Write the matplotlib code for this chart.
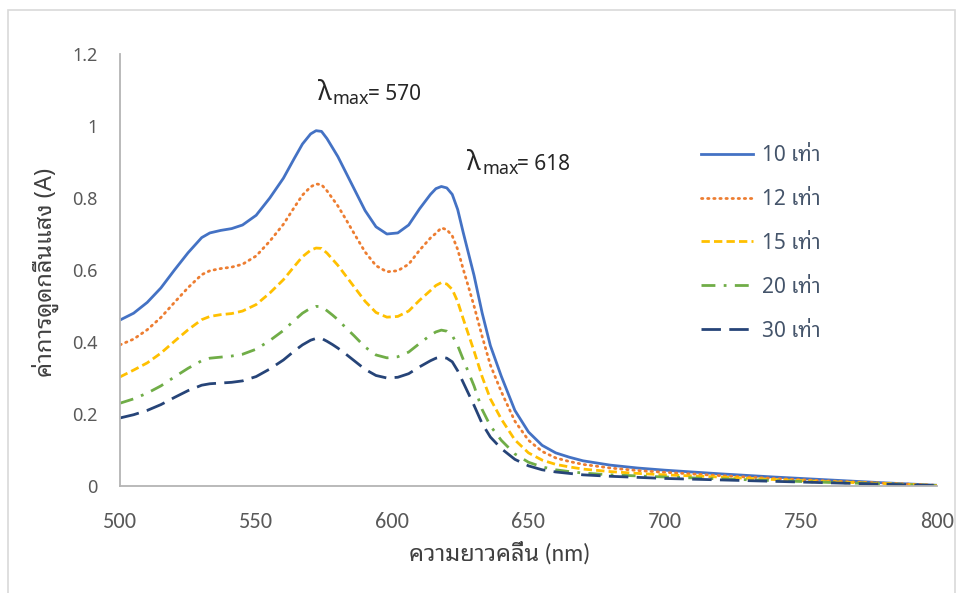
import matplotlib
matplotlib.use("Agg")
import matplotlib.pyplot as plt
from matplotlib.patches import Rectangle

# wavelength (nm) and absorbance
wavelength = [500, 505, 510, 515, 520, 525, 530, 533, 537, 541, 545, 550, 555, 560,
              564, 567, 570, 572, 574, 576, 578, 580, 583, 586, 590, 594, 598, 602,
              606, 610, 614, 616, 618, 620, 622, 624, 626, 628, 630, 633, 636, 640,
              645, 650, 655, 660, 665, 670, 680, 690, 700, 720, 740, 760, 780, 800]

abs_10x = [0.461, 0.480, 0.510, 0.550, 0.600, 0.648, 0.690, 0.703, 0.710, 0.715, 0.725,
           0.752, 0.800, 0.855, 0.910, 0.950, 0.978, 0.987, 0.985, 0.965, 0.940, 0.915,
           0.870, 0.825, 0.765, 0.720, 0.700, 0.703, 0.725, 0.770, 0.810, 0.826, 0.832,
           0.828, 0.810, 0.768, 0.705, 0.645, 0.585, 0.480, 0.390, 0.305, 0.210, 0.150,
           0.113, 0.092, 0.080, 0.070, 0.058, 0.050, 0.044, 0.034, 0.025, 0.017, 0.009,
           0.002]
abs_12x = [0.392, 0.408, 0.434, 0.468, 0.510, 0.551, 0.587, 0.598, 0.604, 0.608, 0.616,
           0.639, 0.680, 0.727, 0.774, 0.808, 0.831, 0.839, 0.837, 0.820, 0.799, 0.778,
           0.740, 0.701, 0.650, 0.612, 0.595, 0.598, 0.616, 0.655, 0.689, 0.702, 0.717,
           0.712, 0.695, 0.657, 0.603, 0.552, 0.500, 0.415, 0.336, 0.262, 0.180, 0.127,
           0.096, 0.078, 0.068, 0.060, 0.050, 0.043, 0.038, 0.029, 0.021, 0.014, 0.008,
           0.002]
abs_15x = [0.303, 0.322, 0.342, 0.369, 0.402, 0.434, 0.462, 0.471, 0.476, 0.479, 0.486,
           0.504, 0.536, 0.573, 0.610, 0.637, 0.655, 0.661, 0.660, 0.647, 0.630, 0.613,
           0.583, 0.553, 0.513, 0.482, 0.469, 0.471, 0.486, 0.516, 0.543, 0.557, 0.565,
           0.561, 0.546, 0.512, 0.465, 0.420, 0.375, 0.303, 0.242, 0.186, 0.128, 0.092,
           0.072, 0.060, 0.053, 0.047, 0.040, 0.035, 0.031, 0.025, 0.018, 0.012, 0.007,
           0.001]
abs_20x = [0.230, 0.242, 0.258, 0.278, 0.303, 0.327, 0.348, 0.355, 0.358, 0.361, 0.366,
           0.380, 0.404, 0.432, 0.460, 0.480, 0.494, 0.499, 0.498, 0.487, 0.475, 0.462,
           0.439, 0.417, 0.386, 0.364, 0.356, 0.359, 0.372, 0.396, 0.419, 0.428, 0.433,
           0.430, 0.418, 0.390, 0.352, 0.315, 0.278, 0.212, 0.167, 0.127, 0.089, 0.066,
           0.053, 0.045, 0.040, 0.036, 0.031, 0.028, 0.025, 0.020, 0.015, 0.010, 0.006,
           0.001]
abs_30x = [0.189, 0.198, 0.210, 0.226, 0.246, 0.265, 0.280, 0.284, 0.286, 0.288, 0.292,
           0.304, 0.325, 0.350, 0.375, 0.392, 0.405, 0.410, 0.410, 0.402, 0.393, 0.383,
           0.366, 0.348, 0.324, 0.307, 0.300, 0.302, 0.312, 0.331, 0.348, 0.355, 0.358,
           0.355, 0.345, 0.320, 0.288, 0.256, 0.224, 0.173, 0.136, 0.104, 0.074, 0.056,
           0.045, 0.039, 0.035, 0.031, 0.027, 0.024, 0.021, 0.017, 0.013, 0.009, 0.005,
           0.001]

labels = ["10 เท่า", "12 เท่า", "15 เท่า", "20 เท่า", "30 เท่า"]
xticks = [500, 550, 600, 650, 700, 750, 800]
yticks = [0, 0.2, 0.4, 0.6, 0.8, 1.0, 1.2]
ytick_labels = ["0", "0.2", "0.4", "0.6", "0.8", "1", "1.2"]
peak_labels = ["570", "618"]

thai_sans = ["Noto Sans", "Noto Sans Thai Looped"]
thai_narrow = ["Carlito", "Noto Sans Thai Looped"]

W, H = 965, 593
fig = plt.figure(figsize=(W / 100, H / 100), dpi=100)
# chart area border of the screenshot
fig.patches.append(Rectangle((8 / W, -0.05), (955 - 8) / W, 1.05 - 10 / H,
                             transform=fig.transFigure, fill=False,
                             edgecolor="#d9d9d9", linewidth=1.2))

ax = fig.add_axes([120 / W, 1 - 486 / H, (937 - 120) / W, (486 - 54) / H])

series = [abs_10x, abs_12x, abs_15x, abs_20x, abs_30x]
colors = ["#4472c4", "#ed7d31", "#ffc000", "#70ad47", "#264478"]
styles = ["-", (0, (0.5, 1.7)), (0, (3, 1.5)), (0, (5, 3, 1, 3)), (0, (7, 3))]
for vals, lab, c, ls in zip(series, labels, colors, styles):
    ax.plot(wavelength, vals, color=c, linestyle=ls, linewidth=2.0,
            solid_joinstyle="round", dash_joinstyle="round",
            dash_capstyle="round" if lab.startswith("12") else "butt", label=lab)

ax.set_xlim(500, 800)
ax.set_ylim(0, 1.2)
ax.set_xticks(xticks)
ax.set_yticks(yticks)
ax.set_yticklabels(ytick_labels)
ax.tick_params(length=0, colors="#595959")
ax.tick_params(axis="x", pad=19)
ax.tick_params(axis="y", pad=16)
for t in ax.get_xticklabels():
    t.set_family(thai_narrow)
    t.set_fontsize(16)
for t in ax.get_yticklabels():
    t.set_family(thai_sans)
    t.set_fontsize(13)
for s in ["top", "right"]:
    ax.spines[s].set_visible(False)
for s in ["left", "bottom"]:
    ax.spines[s].set_color("#b4b4b4")
    ax.spines[s].set_linewidth(1.3)

ax.set_xlabel("ความยาวคลื่น (nm)", family=thai_narrow, fontsize=17, color="#404040")
ax.xaxis.label.set_va("center")
ax.xaxis.set_label_coords((500 - 120) / 817, -(553 - 486) / 432)
ax.set_ylabel("ค่าการดูดกลืนแสง (A)", family=thai_sans, fontsize=17, color="#404040")
ax.yaxis.label.set_va("center")
ax.yaxis.set_label_coords(-(120 - 45) / 817, (486 - 272) / 432)

# lambda max annotations: big lambda, subscript "max", then the value
for (px, py), val in zip([(318, 100), (467, 170)], peak_labels):
    fig.text(px / W, 1 - py / H, "λ", family="Noto Sans", fontsize=19,
             color="#262626", va="baseline")
    fig.text((px + 15) / W, 1 - (py + 4) / H, "max", family="Noto Sans",
             fontsize=13, color="#262626", va="baseline")
    fig.text((px + 50) / W, 1 - py / H, "= " + val, family="Noto Sans",
             fontsize=15, color="#262626", va="baseline")

leg = ax.legend(loc="upper left", bbox_to_anchor=(0.6885, 0.833), frameon=False,
                handlelength=2.5, labelspacing=1.1, handletextpad=0.4,
                prop={"family": thai_sans, "size": 15, "weight": "bold"})
for t in leg.get_texts():
    t.set_color("#44546a")

fig.savefig("out.png")
